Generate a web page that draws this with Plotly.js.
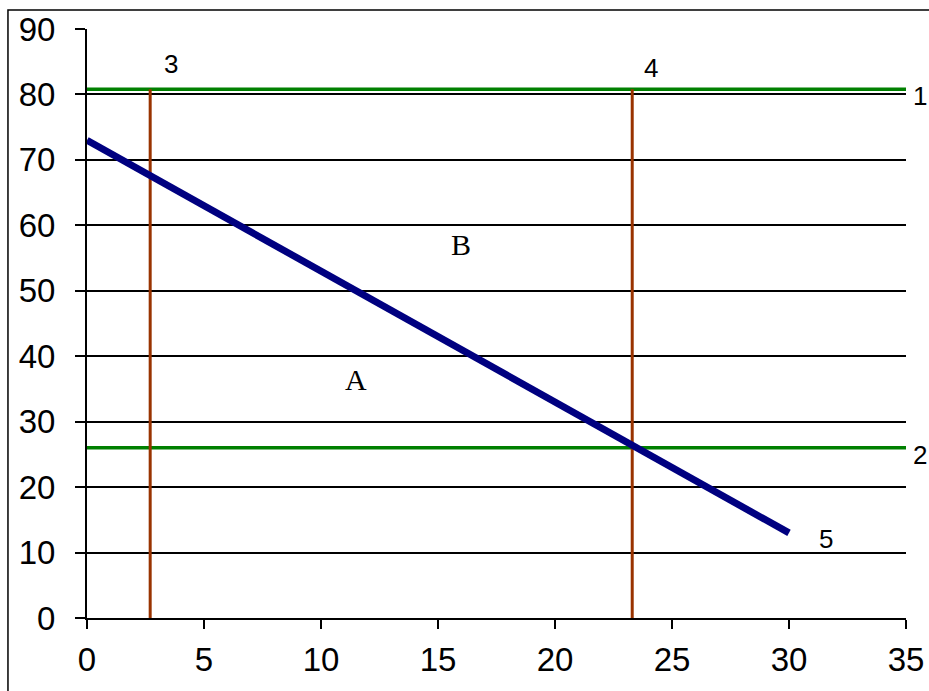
<!DOCTYPE html>
<html>
<head>
<meta charset="utf-8">
<script src="https://cdn.plot.ly/plotly-3.0.1.min.js"></script>
<style>html,body{margin:0;padding:0;background:#fff;}#chart{width:929px;height:691px;}</style>
</head>
<body>
<div id="chart"></div>
<script>
// Data
var upperLevel = 80.8;      // line 1 (green)
var lowerLevel = 26;        // line 2 (green)
var leftBound = 2.7;        // line 3 (brown)
var rightBound = 23.3;      // line 4 (brown)
var demandX = [0, 30];      // line 5 (navy)
var demandY = [73, 13];
var xMax = 35;
var xTicks = [0, 5, 10, 15, 20, 25, 30, 35];
var yTicks = [0, 10, 20, 30, 40, 50, 60, 70, 80, 90];

var numFont = {family: 'Liberation Sans, Arial, sans-serif', size: 26, color: '#000'};
var serifFont = {family: 'Liberation Serif, Times New Roman, serif', size: 30, color: '#000'};
var tickFont = {family: 'Liberation Sans, Arial, sans-serif', size: 33, color: '#000'};

var traces = [
  {x: [0, xMax], y: [upperLevel, upperLevel], mode: 'lines', line: {color: '#008000', width: 3.5}, hoverinfo: 'skip'},
  {x: [0, xMax], y: [lowerLevel, lowerLevel], mode: 'lines', line: {color: '#008000', width: 3.5}, hoverinfo: 'skip'},
  {x: [leftBound, leftBound], y: [0, upperLevel], mode: 'lines', line: {color: '#993300', width: 3}, hoverinfo: 'skip'},
  {x: [rightBound, rightBound], y: [0, upperLevel], mode: 'lines', line: {color: '#993300', width: 3}, hoverinfo: 'skip'},
  {x: demandX, y: demandY, mode: 'lines', line: {color: '#000080', width: 7}, hoverinfo: 'skip'}
];

var layout = {
  width: 929, height: 691,
  margin: {l: 87, r: 23, t: 29, b: 73},
  showlegend: false,
  paper_bgcolor: '#fff', plot_bgcolor: '#fff',
  font: {family: 'Liberation Sans, Arial, sans-serif', size: 33, color: '#000'},
  xaxis: {
    range: [0, xMax], tickvals: xTicks, ticktext: xTicks.map(String),
    showgrid: false, zeroline: false, showline: true, linecolor: '#000', linewidth: 2,
    ticks: 'outside', ticklen: 9, tickcolor: '#000', tickwidth: 2,
    tickfont: tickFont, ticklabelstandoff: 2
  },
  yaxis: {
    range: [0, 90], tickvals: yTicks, ticktext: yTicks.map(String),
    showgrid: true, gridcolor: '#000', gridwidth: 2, zeroline: false,
    showline: true, linecolor: '#000', linewidth: 2,
    ticks: 'outside', ticklen: 10, tickcolor: '#000', tickwidth: 2,
    tickfont: tickFont, ticklabelstandoff: 13
  },
  shapes: [
    {type: 'rect', xref: 'paper', yref: 'paper', x0: -0.0965, x1: 1.2, y0: -0.3, y1: 1.0324,
     line: {color: '#000', width: 1.5}, fillcolor: 'rgba(0,0,0,0)', layer: 'below'}
  ],
  annotations: [
    {x: 3.6, y: 84.6, xref: 'x', yref: 'y', text: '3', showarrow: false, font: numFont},
    {x: 24.1, y: 84.0, xref: 'x', yref: 'y', text: '4', showarrow: false, font: numFont},
    {x: 31.6, y: 12.0, xref: 'x', yref: 'y', text: '5', showarrow: false, font: numFont},
    {x: 1.0281, y: 79.8, xref: 'paper', yref: 'y', xanchor: 'right', text: '1', showarrow: false, font: numFont},
    {x: 1.0281, y: 24.9, xref: 'paper', yref: 'y', xanchor: 'right', text: '2', showarrow: false, font: numFont},
    {x: 16.0, y: 57.0, xref: 'x', yref: 'y', text: 'B', showarrow: false, font: serifFont},
    {x: 11.5, y: 36.5, xref: 'x', yref: 'y', text: 'A', showarrow: false, font: serifFont}
  ]
};

Plotly.newPlot('chart', traces, layout, {displayModeBar: false, staticPlot: true});
</script>
</body>
</html>
